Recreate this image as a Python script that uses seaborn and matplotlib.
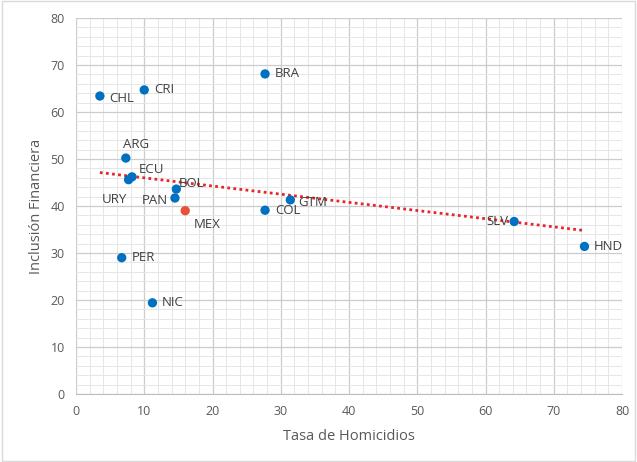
import numpy as np
import pandas as pd
import seaborn as sns
import matplotlib.pyplot as plt
from matplotlib.ticker import MultipleLocator
from matplotlib.patches import Rectangle

# Data
countries = ["CHL", "CRI", "BRA", "ARG", "ECU", "URY", "BOL", "PAN", "MEX",
             "COL", "GTM", "SLV", "HND", "PER", "NIC"]
homicidios = [3.5, 10.0, 27.7, 7.3, 8.2, 7.7, 14.7, 14.5, 16.0,
              27.7, 31.4, 64.2, 74.5, 6.7, 11.2]
inclusion = [63.4, 64.7, 68.1, 50.2, 46.2, 45.6, 43.6, 41.7, 39.0,
             39.1, 41.3, 36.7, 31.4, 29.0, 19.4]

df = pd.DataFrame({"pais": countries, "x": homicidios, "y": inclusion})
df["grupo"] = np.where(df["pais"] == "MEX", "MEX", "otros")

# label offsets in points (dx, dy, ha)
label_pos = {
    "URY": (-1, -14, "right"), "PAN": (-5, -2, "right"), "SLV": (-4, 0, "right"),
    "ARG": (-2, 10, "left"), "ECU": (5, 5, "left"), "BOL": (2, 4, "left"),
    "GTM": (6, -2, "left"), "MEX": (6, -10, "left"), "CHL": (7, -2, "left"),
}

sns.set_style("white")
plt.rcParams["font.family"] = ["Open Sans", "DejaVu Sans"]

fig = plt.figure(figsize=(6.37, 4.62), dpi=100)
ax = fig.add_axes([76 / 637, 1 - 394 / 462, 546 / 637, 376 / 462])

# outer chart border
fig.patches.append(Rectangle((0.003, 0.003), 0.994, 0.994, transform=fig.transFigure,
                             fill=False, edgecolor="#d9d9d9", linewidth=1))

sns.regplot(data=df, x="x", y="y", ax=ax, scatter=False, ci=None,
            line_kws={"color": "#e8242c", "linestyle": (0, (1, 1.2)), "linewidth": 2})

sns.scatterplot(data=df, x="x", y="y", hue="grupo",
                palette={"otros": "#0070c0", "MEX": "#e8503a"},
                s=45, edgecolor="none", legend=False, ax=ax, zorder=3)

for p, xv, yv in zip(countries, homicidios, inclusion):
    dx, dy, ha = label_pos.get(p, (7, 0, "left"))
    ax.annotate(p, (xv, yv), xytext=(dx, dy), textcoords="offset points",
                ha=ha, va="center", fontsize=9.5, color="#404040")

ax.set_xlim(0, 80)
ax.set_ylim(0, 80)
ax.xaxis.set_major_locator(MultipleLocator(10))
ax.yaxis.set_major_locator(MultipleLocator(10))
ax.xaxis.set_minor_locator(MultipleLocator(2))
ax.yaxis.set_minor_locator(MultipleLocator(2))
ax.grid(which="major", color="#cccccc", linewidth=0.9)
ax.grid(which="minor", color="#e6e6e6", linewidth=0.7)
ax.set_axisbelow(True)

for s in ["top", "right", "left"]:
    ax.spines[s].set_visible(False)
ax.spines["bottom"].set_color("#bfbfbf")
ax.tick_params(axis="x", which="major", length=4, color="#bfbfbf", labelsize=9,
               labelcolor="#595959", pad=4)
ax.tick_params(axis="y", which="major", length=0, labelsize=9, labelcolor="#595959", pad=8)
ax.tick_params(which="minor", length=0)

ax.set_xlabel("Tasa de Homicidios", fontsize=10.5, color="#595959", labelpad=8)
ax.set_ylabel("Inclusión Financiera", fontsize=10.5, color="#595959", labelpad=5)

fig.savefig("out.png", dpi=100)
